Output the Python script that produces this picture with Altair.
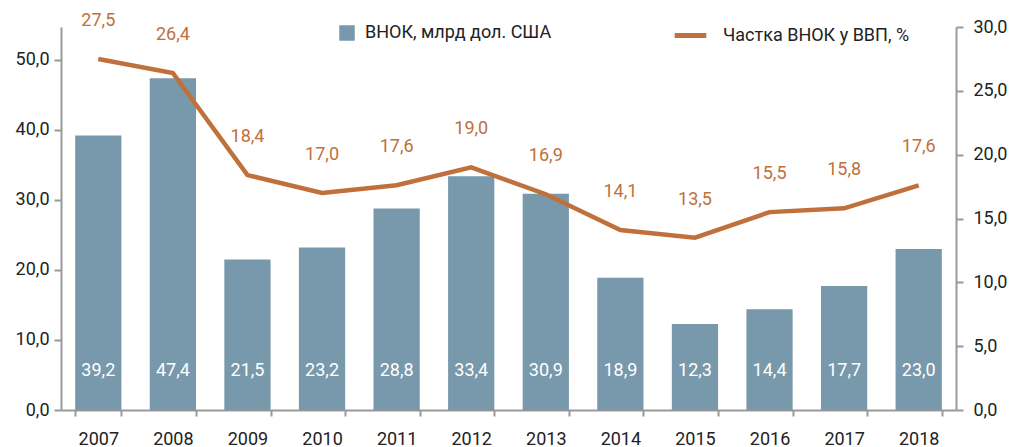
import altair as alt
import pandas as pd

years = ["2007", "2008", "2009", "2010", "2011", "2012", "2013", "2014", "2015", "2016", "2017", "2018"]
vnok = [39.2, 47.4, 21.5, 23.2, 28.8, 33.4, 30.9, 18.9, 12.3, 14.4, 17.7, 23.0]
share = [27.5, 26.4, 18.4, 17.0, 17.6, 19.0, 16.9, 14.1, 13.5, 15.5, 15.8, 17.6]

bar_name = "ВНОК, млрд дол. США"
line_name = "Частка ВНОК у ВВП, %"

df = pd.DataFrame({"year": years, "vnok": vnok, "share": share,
                   "s1": bar_name, "s2": line_name})

FONT = "Roboto"
BLUE = "#7899AB"
ORANGE = "#C0703A"
TXT = "#222222"
AX = "#999999"
FS = 18
fmt = "replace(format(datum.value, '.1f'), '.', ',')"

base = alt.Chart(df).encode(
    x=alt.X("year:N", title=None, sort=years,
            scale=alt.Scale(paddingInner=0.38, paddingOuter=0.19),
            axis=alt.Axis(labelAngle=0, bandPosition=0, tickBand="extent",
                          domainColor=AX, tickColor=AX, tickSize=6, tickWidth=2, domainWidth=2,
                          labelFontSize=FS, labelColor=TXT, labelFont=FONT, labelPadding=14))
)

yl = alt.Scale(domain=[0, 54.71], nice=False, zero=True)
yr = alt.Scale(domain=[0, 30], nice=False)

bars = base.mark_bar(color=BLUE).encode(
    y=alt.Y("vnok:Q", title=None, scale=yl,
            axis=alt.Axis(values=[0, 10, 20, 30, 40, 50], labelExpr=fmt, grid=False,
                          domainColor=AX, tickColor=AX, tickSize=7, tickWidth=2, domainWidth=2,
                          labelFontSize=FS, labelColor=TXT, labelFont=FONT, labelPadding=5)),
    fill=alt.Fill("s1:N", scale=alt.Scale(domain=[bar_name], range=[BLUE]),
                  legend=alt.Legend(title=None, orient="none", legendX=277, legendY=-3,
                                    symbolType="square", symbolSize=240, labelFontSize=FS,
                                    labelLimit=0,
                                    labelFont=FONT, labelColor=TXT, labelOffset=9, symbolStrokeWidth=0))
)

bar_text = base.mark_text(color="white", fontSize=FS, font=FONT, baseline="middle").transform_calculate(
    lbl="replace(format(datum.vnok, '.1f'), '.', ',')"
).encode(
    y=alt.value(344),
    text="lbl:N"
)

line = base.mark_line(color=ORANGE, strokeWidth=4.5).encode(
    y=alt.Y("share:Q", title=None, scale=yr,
            axis=alt.Axis(orient="right", values=[0, 5, 10, 15, 20, 25, 30], labelExpr=fmt, grid=False,
                          domainColor=AX, tickColor=AX, tickSize=7, tickWidth=2, domainWidth=2,
                          labelFontSize=FS, labelColor=TXT, labelFont=FONT, labelPadding=10)),
    stroke=alt.Stroke("s2:N", scale=alt.Scale(domain=[line_name], range=[ORANGE]),
                      legend=alt.Legend(title=None, orient="none", legendX=611, legendY=-10,
                                        symbolType="stroke", symbolSize=1000, symbolStrokeWidth=5,
                                        labelLimit=0,
                                        labelFontSize=FS, labelFont=FONT, labelColor=TXT, labelOffset=14))
)

line_text = base.mark_text(color=ORANGE, fontSize=FS, font=FONT, dy=-38, baseline="middle").transform_calculate(
    lbl="replace(format(datum.share, '.1f'), '.', ',')"
).encode(
    y=alt.Y("share:Q", scale=yr),
    text="lbl:N"
)

left = alt.layer(bars, bar_text)
right = alt.layer(line, line_text)

chart = alt.layer(left, right).resolve_scale(y="independent", fill="independent", stroke="independent").properties(
    width=895, height=383,
    autosize=alt.AutoSizeParams(type="none"),
    padding={"left": 53, "top": 19, "right": 54, "bottom": 37},
    background="white"
).configure_view(stroke=None)

chart.save("out.html", embed_options={"renderer": "svg", "actions": False})
